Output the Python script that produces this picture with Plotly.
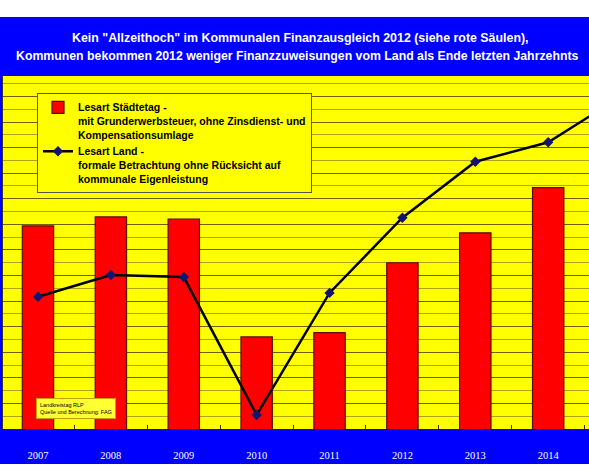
import plotly.graph_objects as go

# data (Mio. EUR, estimated)
years = ['2007', '2008', '2009', '2010', '2011', '2012', '2013', '2014', '2015']
staedtetag = [2294, 2329, 2321, 1860, 1877, 2150, 2267, 2444, None]
land = [2017, 2102, 2094, 1555, 2032, 2326, 2545, 2621, 2800]

name_bar = "Lesart Städtetag -<br>mit Grunderwerbsteuer, ohne Zinsdienst- und<br>Kompensationsumlage"
name_line = "Lesart Land -<br>formale Betrachtung ohne Rücksicht auf<br>kommunale Eigenleistung"

title_1 = 'Kein "Allzeithoch" im Kommunalen Finanzausgleich 2012 (siehe rote Säulen),'
title_2 = 'Kommunen bekommen 2012 weniger Finanzzuweisungen vom Land als Ende letzten Jahrzehnts'

fig = go.Figure()
fig.add_trace(go.Bar(x=years, y=staedtetag, name=name_bar,
                     width=0.43,
                     marker=dict(color='#ff0000', line=dict(color='#5a0a00', width=1.2))))
fig.add_trace(go.Scatter(x=years, y=land, name=name_line,
                         mode='lines+markers',
                         line=dict(color='black', width=2.5),
                         marker=dict(symbol='diamond', size=8, color='#14146e')))

W, H = 589, 475
ml, mr, mt, mb = 3, 0, 76, 46
pw, ph = W - ml - mr, H - mt - mb

# pixel -> paper coords
def px_x(x):
    return (x - ml) / pw

def px_y(y):
    return (H - mb - y) / ph

fig.update_layout(
    width=W, height=H,
    margin=dict(l=ml, r=mr, t=mt, b=mb, pad=0),
    paper_bgcolor='#0000ff',
    plot_bgcolor='#ffff00',
    font=dict(family='Liberation Sans, Arial', color='black'),
    showlegend=True,
    legend=dict(x=px_x(37), y=px_y(93), xanchor='left', yanchor='top',
                bgcolor='#ffff00', bordercolor='#555555', borderwidth=1,
                font=dict(size=10.5, family='Liberation Sans, Arial', color='black', weight='bold'),
                valign='top', tracegroupgap=2, itemwidth=30),
    xaxis=dict(range=[-0.48, 7.56], tickson='boundaries', ticks='inside', ticklen=4,
               tickcolor='#333333', showgrid=False, showline=True, linecolor='#222222',
               linewidth=1, ticklabelstandoff=16,
               tickfont=dict(family='Liberation Serif, Times New Roman', size=10.5, color='white')),
    yaxis=dict(range=[1500, 2880], tick0=1500, dtick=100, showticklabels=False,
               showgrid=True, gridcolor='#6e6200', gridwidth=1.2, zeroline=False,
               showline=True, linecolor='#333333', linewidth=1, mirror=True,
               minor=dict(dtick=50, showgrid=True, gridcolor='#b0a418', gridwidth=1)),
    shapes=[
        dict(type='rect', xref='paper', yref='paper', x0=px_x(0), x1=px_x(W),
             y0=px_y(0), y1=px_y(17), fillcolor='white', line=dict(width=0), layer='above'),
        dict(type='rect', xref='paper', yref='paper', x0=px_x(0), x1=px_x(W),
             y0=px_y(464), y1=px_y(H), fillcolor='white', line=dict(width=0), layer='above'),
    ],
    annotations=[
        dict(text=title_1, xref='paper', yref='paper', x=px_x(300), y=px_y(38),
             xanchor='center', yanchor='middle', showarrow=False,
             font=dict(size=12.4, color='white', weight='bold')),
        dict(text=title_2, xref='paper', yref='paper', x=px_x(14), y=px_y(56),
             xanchor='left', yanchor='middle', showarrow=False,
             font=dict(size=12.3, color='white', weight='bold')),
        dict(text='Ansatz', x='2012', y=staedtetag[5], yshift=-5, showarrow=False,
             bgcolor='white', font=dict(size=5, color='black'), borderpad=1),
        dict(text='Landkreistag RLP<br>Quelle und Berechnung: FAG', xref='paper', yref='paper',
             x=px_x(36), y=px_y(398), xanchor='left', yanchor='top', align='left',
             showarrow=False, bgcolor='#ffff33', bordercolor='#c8a000', borderwidth=1,
             borderpad=3, font=dict(size=5.5, color='black')),
    ],
)

fig.write_html("out.html", config={'displayModeBar': False},
               post_script="document.body.style.margin='0px';")
